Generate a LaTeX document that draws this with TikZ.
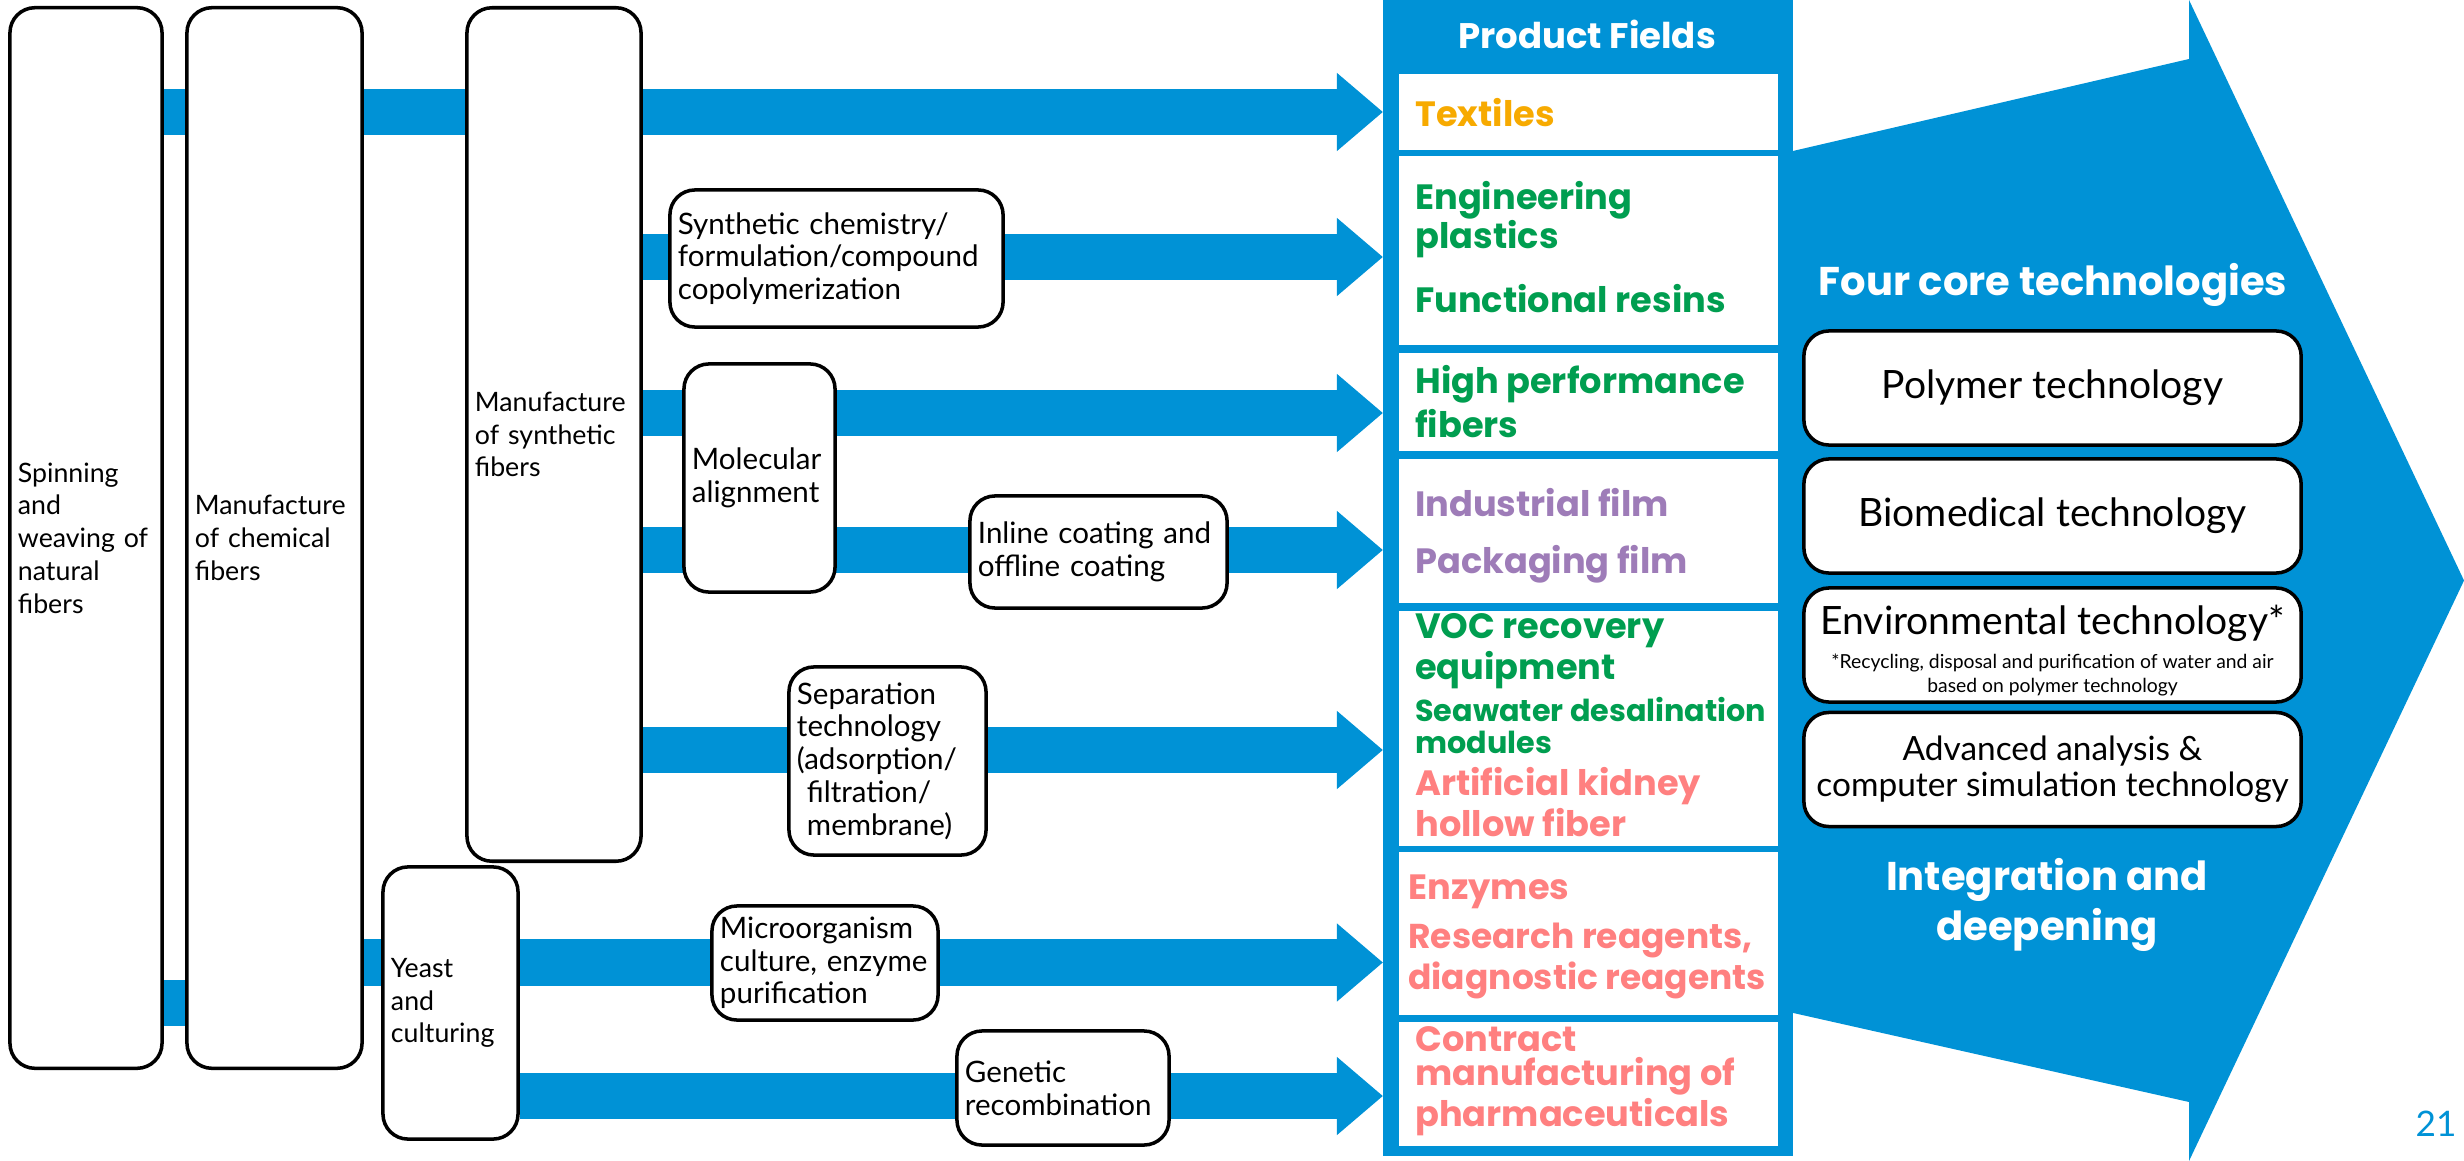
\documentclass[tikz,border=0pt]{standalone}
\usepackage{fontspec}
\setmainfont{Lato}
\newfontfamily\fieldfont{Poppins}
\usetikzlibrary{arrows.meta}
\usetikzlibrary{backgrounds}

\definecolor{tblue}{RGB}{0,146,214}
\definecolor{ftorange}{RGB}{247,170,0}
\definecolor{ftgreen}{RGB}{0,158,80}
\definecolor{ftpurple}{RGB}{158,124,184}
\definecolor{ftpink}{RGB}{255,128,128}

\newcommand{\bodysize}{\fontsize{8.4}{9.3}\selectfont}
\newcommand{\fieldfs}[2]{\fieldfont\bfseries\fontsize{#1}{#2}\selectfont}

\tikzset{
  stage/.style={draw, line width=1pt, rounded corners=2.5mm, fill=white,
    align=left, inner xsep=0.8mm, inner ysep=0pt, font=\bodysize},
  tallstage/.style={stage, font=\fontsize{7.6}{9.3}\selectfont},
  fieldbox/.style={fill=white, minimum width=3.79cm, inner sep=0pt},
  fieldtxt/.style={anchor=west, align=left, inner sep=0pt, font=\fieldfs{10}{9.3}},
  corebox/.style={draw, line width=1pt, rounded corners=2.5mm, fill=white,
    minimum width=4.97cm, minimum height=1.14cm, align=center,
    font=\fontsize{11.1}{12}\selectfont},
  band/.style={draw=tblue, line width=4.6mm, -{Triangle[length=4.6mm, width=7.5mm]}},
  bandpart/.style={draw=tblue, line width=4.6mm},
  whitehead/.style={text=white, align=center, font=\fieldfs{11.4}{14.2}},
}

\begin{document}
\begin{tikzpicture}[x=0.01cm, y=-0.01cm]
  \useasboundingbox (0,0) rectangle (2464,1161);

  % big arrow behind the product fields
  \fill[tblue] (1780,154) -- (2189,59) -- (2189,0) -- (2464,580.5)
    -- (2189,1161) -- (2189,1102) -- (1780,1010) -- cycle;

  % product fields column
  \node[fill=tblue, minimum width=4.10cm, minimum height=11.56cm, inner sep=0pt] (fields) at (1588,578) {};
  \node[whitehead, font=\fieldfs{10.1}{12}] (fhead) at (1587,34) {Product Fields};

  \node[fieldbox, minimum height=0.76cm] (p1) at (1588.5,112) {};
  \node[fieldbox, minimum height=1.89cm] (p2) at (1588.5,250.5) {};
  \node[fieldbox, minimum height=0.98cm] (p3) at (1588.5,402) {};
  \node[fieldbox, minimum height=1.44cm] (p4) at (1588.5,531) {};
  \node[fieldbox, minimum height=2.35cm] (p5) at (1588.5,728.5) {};
  \node[fieldbox, minimum height=1.63cm] (p6) at (1588.5,933.5) {};
  \node[fieldbox, minimum height=1.24cm] (p7) at (1588.5,1084) {};

  \node[fieldtxt, text=ftorange] (textiles) at (1414.6,113) {Textiles};
  \node[fieldtxt, text=ftgreen, font=\fieldfs{10}{11.1}] (plastics) at (1414.6,219.5) {Engineering\\plastics};
  \node[fieldtxt, text=ftgreen] (resins) at (1414.6,298.5) {Functional resins};
  \node[fieldtxt, text=ftgreen, font=\fieldfs{10}{12.5}] (hpfiber) at (1414.6,402) {High performance\\fibers};
  \node[fieldtxt, text=ftpurple] (indfilm) at (1414.6,503) {Industrial film};
  \node[fieldtxt, text=ftpurple] (packfilm) at (1414.6,564) {Packaging film};
  \node[fieldtxt, text=ftgreen, font=\fieldfs{10}{9.1}] (voc) at (1414.6,651) {VOC recovery\\equipment};
  \node[fieldtxt, text=ftgreen, font=\fieldfs{8.6}{9.1}] (seawater) at (1414.6,726) {Seawater desalination\\modules};
  \node[fieldtxt, text=ftpink, font=\fieldfs{10}{9.4}] (kidney) at (1414.6,802.5) {Artificial kidney\\hollow fiber};
  \node[fieldtxt, text=ftpink] (enzymes) at (1407.7,892) {Enzymes};
  \node[fieldtxt, text=ftpink, font=\fieldfs{9.8}{10}] (reagents) at (1407.7,961) {Research reagents,\\diagnostic reagents};
  \node[fieldtxt, text=ftpink, font=\fieldfs{10}{9.6}] (pharma) at (1414.6,1081) {Contract\\manufacturing of\\pharmaceuticals};

  % four core technologies
  \node[whitehead] (four) at (2053,285) {Four core technologies};
  \node[corebox] (polymer) at (2052.5,388) {Polymer technology};
  \node[corebox] (biomed) at (2052.5,516) {Biomedical technology};
  \node[corebox] (environ) at (2052.5,645) {};
  \node[font=\fontsize{11.1}{12}\selectfont] (envtxt) at (2052.5,623) {Environmental technology*};
  \node[align=center, font=\fontsize{5.5}{6.8}\selectfont] (envnote) at (2052.5,675)
    {*Recycling, disposal and purification of water and air\\based on polymer technology};
  \node[corebox, font=\fontsize{9.5}{10.3}\selectfont] (analysis) at (2052.5,769.5)
    {Advanced analysis \&\\computer simulation technology};
  \node[whitehead, font=\fieldfs{11.4}{14.2}] (integ) at (2047,905) {Integration and\\deepening};
  \node[text=tblue, font=\fontsize{10}{12}\selectfont] (pagenum) at (2436,1124) {21};

  % process stages
  \node[tallstage, text width=1.36cm, minimum height=10.6cm] (natural) at (86,538) {Spinning\\and\\weaving of\\natural\\fibers};
  \node[tallstage, text width=1.59cm, minimum height=10.6cm] (chemical) at (274.5,538) {Manufacture\\of chemical\\fibers};
  \node[tallstage, text width=1.58cm, minimum height=8.53cm] (synthetic) at (554,434.5) {Manufacture\\of synthetic\\fibers};
  \node[tallstage, text width=1.19cm, minimum height=2.72cm] (yeast) at (450.5,1003) {Yeast\\and\\culturing};
  \node[stage, text width=3.17cm, minimum height=1.37cm] (synchem) at (836.5,258.5) {Synthetic chemistry/\\formulation/compound\\copolymerization};
  \node[stage, text width=1.35cm, minimum height=2.28cm] (molecular) at (759.5,478) {Molecular\\alignment};
  \node[stage, text width=2.41cm, minimum height=1.12cm] (coating) at (1098.5,552) {Inline coating and\\offline coating};
  \node[stage, text width=1.81cm, minimum height=1.88cm] (separation) at (887.5,761) {Separation\\technology\\(adsorption/\\\hspace*{1mm}filtration/\\\hspace*{1mm}membrane)};
  \node[stage, text width=2.10cm, minimum height=1.14cm] (microbe) at (825,963) {Microorganism\\culture, enzyme\\purification};
  \node[stage, text width=1.96cm, minimum height=1.14cm] (genetic) at (1063,1088) {Genetic\\recombination};

  % band ends at the product fields
  \coordinate (t1) at (1383,112);
  \coordinate (t2) at (1383,257);
  \coordinate (t3) at (1383,413);
  \coordinate (t4) at (1383,550);
  \coordinate (t5) at (1383,750);
  \coordinate (t6) at (1383,962.5);
  \coordinate (t7) at (1383,1096);
  \coordinate (ab) at (0,1003);

  \begin{pgfonlayer}{background}
    \draw[band] (natural.east |- t1) -- (t1);
    \draw[band] (synthetic.east |- t2) -- (t2);
    \draw[band] (synthetic.east |- t3) -- (t3);
    \draw[band] (synthetic.east |- t4) -- (t4);
    \draw[band] (synthetic.east |- t5) -- (t5);
    \draw[bandpart] (natural.east |- ab) -- (chemical.west |- ab);
    \draw[bandpart] (chemical.east |- t6) -- (yeast.west |- t6);
    \draw[band] (yeast.east |- t6) -- (t6);
    \draw[band] (yeast.east |- t7) -- (t7);
  \end{pgfonlayer}
\end{tikzpicture}
\end{document}
